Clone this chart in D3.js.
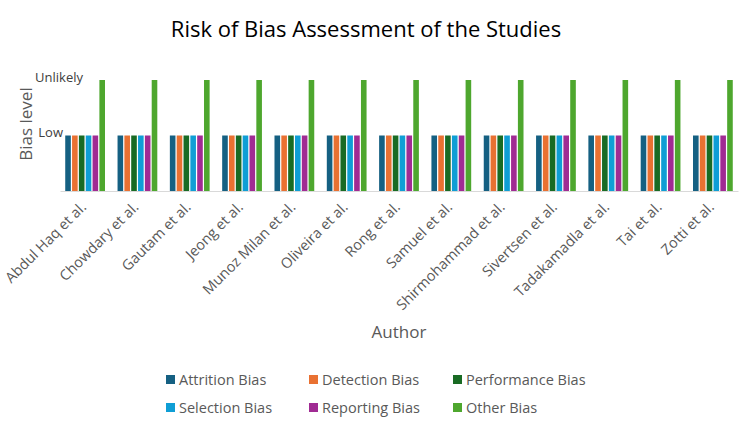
<!DOCTYPE html>
<html>
<head>
<meta charset="utf-8">
<script src="https://cdn.jsdelivr.net/npm/d3@7"></script>
<style>
  body { margin: 0; background: #fff; }
  text { font-family: "Open Sans", "Noto Sans", sans-serif; }
</style>
</head>
<body>
<svg id="chart" width="750" height="428"></svg>
<script>
const authors = ["Abdul Haq et al.", "Chowdary et al.", "Gautam et al.", "Jeong et al.",
  "Munoz Milan et al.", "Oliveira et al.", "Rong et al.", "Samuel et al.",
  "Shirmohammad et al.", "Sivertsen et al.", "Tadakamadla et al.", "Tai et al.", "Zotti et al."];
const seriesNames = ["Attrition Bias", "Detection Bias", "Performance Bias",
  "Selection Bias", "Reporting Bias", "Other Bias"];
const colors = ["#156082", "#E97132", "#196B24", "#0F9ED5", "#A02B93", "#4EA72E"];
// 1 = Low, 2 = Unlikely
const attrition   = [1,1,1,1,1,1,1,1,1,1,1,1,1];
const detection   = [1,1,1,1,1,1,1,1,1,1,1,1,1];
const performance = [1,1,1,1,1,1,1,1,1,1,1,1,1];
const selection   = [1,1,1,1,1,1,1,1,1,1,1,1,1];
const reporting   = [1,1,1,1,1,1,1,1,1,1,1,1,1];
const other       = [2,2,2,2,2,2,2,2,2,2,2,2,2];
const tickValues = [1, 2];
const tickLabels = ["Low", "Unlikely"];

const series = [attrition, detection, performance, selection, reporting, other];

const svg = d3.select("#chart");
const plotLeft = 60, plotRight = 738, plotTop = 80, plotBottom = 191;

const x = d3.scaleBand().domain(authors).range([plotLeft, plotRight]).paddingInner(0.24).paddingOuter(0.1);
const xs = d3.scaleBand().domain(seriesNames).range([0, x.bandwidth()]).paddingInner(0.18);
const y = d3.scaleLinear().domain([0, 2]).range([plotBottom, plotTop]);

// title
svg.append("text").attr("x", 366).attr("y", 37).attr("text-anchor", "middle")
  .attr("font-size", 22).attr("fill", "#000").text("Risk of Bias Assessment of the Studies");

// bars
const groups = svg.append("g").selectAll("g").data(authors).join("g")
  .attr("transform", d => `translate(${x(d)},0)`);
groups.selectAll("rect")
  .data((d, i) => series.map((s, k) => ({ name: seriesNames[k], value: s[i], color: colors[k] })))
  .join("rect")
  .attr("x", d => xs(d.name))
  .attr("y", d => y(d.value))
  .attr("width", xs.bandwidth())
  .attr("height", d => y(0) - y(d.value))
  .attr("fill", d => d.color);

// x axis
const xAxis = svg.append("g").attr("transform", `translate(0,${plotBottom})`)
  .call(d3.axisBottom(x).tickSize(0).tickPadding(0));
xAxis.select(".domain").attr("stroke", "#d9d9d9").attr("stroke-width", 1.2);
xAxis.selectAll("text")
  .attr("font-size", 14.5).attr("fill", "#595959")
  .attr("text-anchor", "end")
  .attr("dy", 0)
  .attr("transform", "translate(2,17) rotate(-45)");

// y axis labels (no line)
const yAxis = svg.append("g").attr("transform", `translate(${plotLeft + 3},0)`)
  .call(d3.axisLeft(y).tickValues(tickValues).tickFormat((d, i) => tickLabels[i]).tickSize(0).tickPadding(0));
yAxis.select(".domain").remove();
yAxis.selectAll("text").attr("font-size", 13).attr("fill", "#404040").attr("dy", "0.05em");
yAxis.selectAll(".tick").filter(d => d === 2).select("text").attr("x", 20).attr("dy", "0.1em");

// axis titles
svg.append("text").attr("transform", "translate(32,124) rotate(-90)").attr("text-anchor", "middle")
  .attr("font-size", 17).attr("fill", "#595959").text("Bias level");
svg.append("text").attr("x", 399).attr("y", 338).attr("text-anchor", "middle")
  .attr("font-size", 17).attr("fill", "#595959").text("Author");

// legend
const legendX = [166, 309, 453];
const legendY = [380, 408];
const legend = svg.append("g").selectAll("g").data(seriesNames).join("g")
  .attr("transform", (d, i) => `translate(${legendX[i % 3]},${legendY[Math.floor(i / 3)]})`);
legend.append("rect").attr("x", 0).attr("y", -5).attr("width", 9).attr("height", 9)
  .attr("fill", (d, i) => colors[i]);
legend.append("text").attr("x", 13).attr("y", 0).attr("dy", "0.35em")
  .attr("font-size", 14.5).attr("fill", "#595959").text(d => d);
</script>
</body>
</html>
